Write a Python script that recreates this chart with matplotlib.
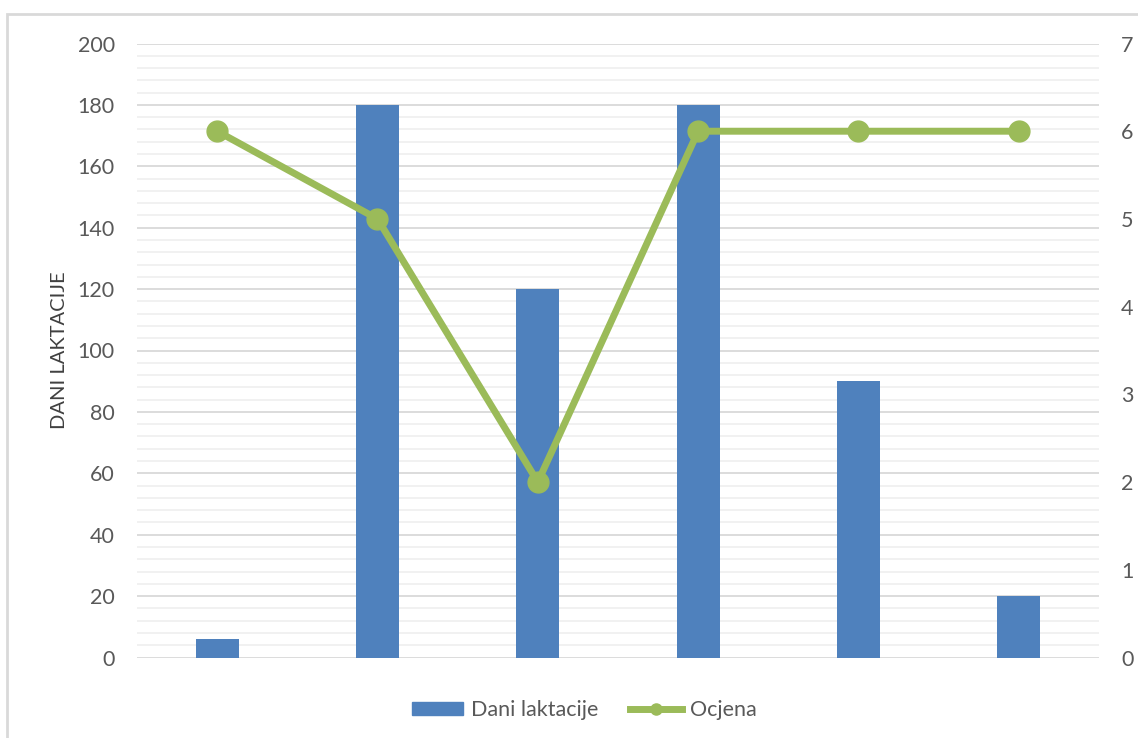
import matplotlib.pyplot as plt
from matplotlib.patches import Rectangle
from matplotlib.lines import Line2D
from matplotlib.ticker import MultipleLocator
import numpy as np

plt.rcParams['font.family'] = ['Lato', 'DejaVu Sans']

# data
dani_laktacije = [6, 180, 120, 180, 90, 20]
ocjena = [6, 5, 2, 6, 6, 6]

bar_color = '#4f81bd'
line_color = '#9bbb59'
text_color = '#595959'

fig = plt.figure(figsize=(11.38, 7.38), dpi=100)
ax = fig.add_axes([137/1138, 1 - 657.5/738, (1099-137)/1138, (657.5-43.5)/738])

x = np.arange(len(dani_laktacije))
ax.bar(x, dani_laktacije, width=0.27, color=bar_color, zorder=3)
ax.set_xlim(-0.5, len(x) - 0.5)
ax.set_ylim(0, 200)
ax.yaxis.set_major_locator(MultipleLocator(20))
ax.yaxis.set_minor_locator(MultipleLocator(4))
ax.grid(which='major', axis='y', color='#d9d9d9', linewidth=1.3, zorder=0)
ax.grid(which='minor', axis='y', color='#f0f0f0', linewidth=1.3, zorder=0)
ax.set_xticks([])
for s in ax.spines.values():
    s.set_visible(False)
ax.tick_params(axis='y', which='both', length=0, labelsize=15.5, labelcolor=text_color, pad=16)
ax.set_ylabel('DANI LAKTACIJE', fontsize=14.5, color='#404040', labelpad=7)

ax2 = ax.twinx()
ax2.plot(x, ocjena, color=line_color, linewidth=5, marker='o', markersize=15, zorder=4)
ax2.set_ylim(0, 7)
ax2.yaxis.set_major_locator(MultipleLocator(1))
for s in ax2.spines.values():
    s.set_visible(False)
ax2.tick_params(axis='y', length=0, labelsize=15.5, labelcolor=text_color, pad=16)

# legend
handles = [Rectangle((0, 0), 1, 1, color=bar_color),
           Line2D([], [], color=line_color, linewidth=5, marker='o', markersize=8)]
fig.legend(handles, ['Dani laktacije', 'Ocjena'], loc='center', bbox_to_anchor=(584/1138, 1 - 710/738),
           ncol=2, frameon=False, fontsize=15.5, labelcolor=text_color, handlelength=2.4,
           handleheight=0.6, columnspacing=1.5, handletextpad=0.35)

# chart frame
fig.patches.append(Rectangle((7/1138, -0.1), 1.2, 1 - 14/738 + 0.1, transform=fig.transFigure,
                             fill=False, edgecolor='#d9d9d9', linewidth=2))

fig.savefig('out.png', dpi=100)
